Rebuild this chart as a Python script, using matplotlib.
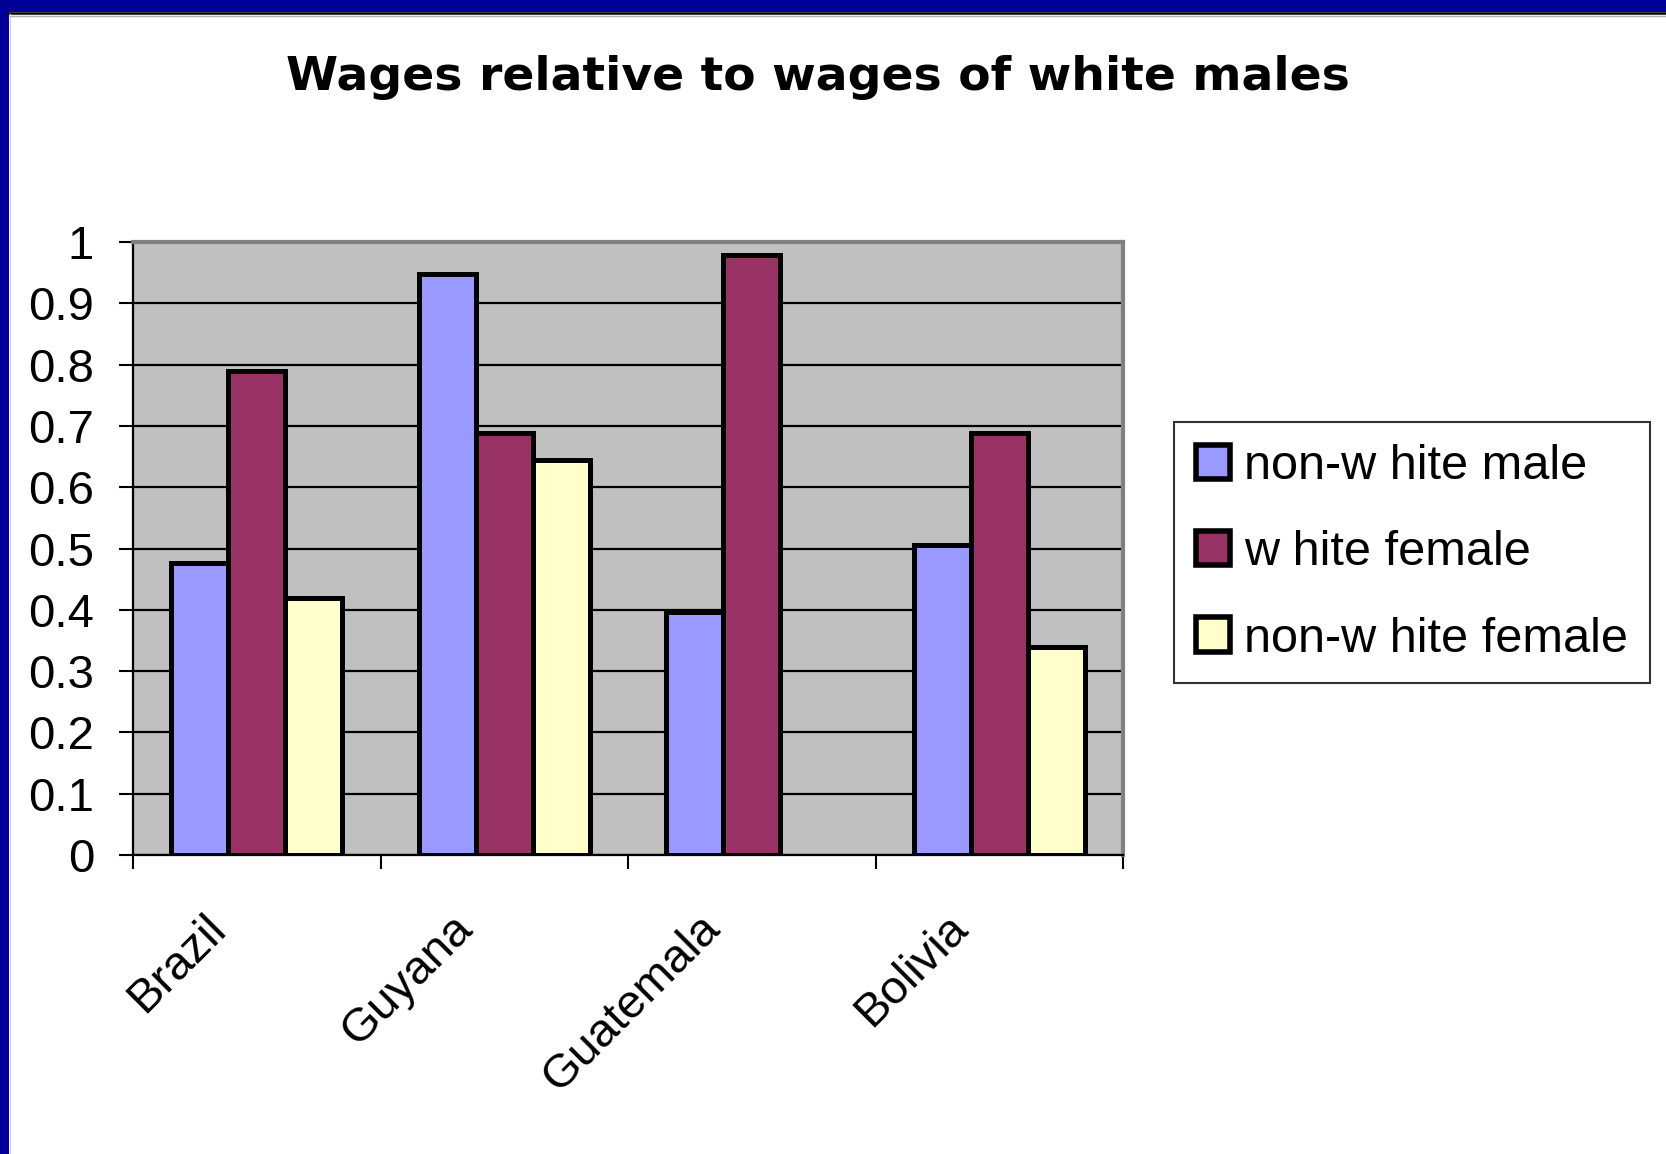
import matplotlib
matplotlib.use("Agg")
import matplotlib.pyplot as plt
from matplotlib.patches import Rectangle, Patch
from matplotlib.transforms import ScaledTranslation
import numpy as np

categories = ["Brazil", "Guyana", "Guatemala", "Bolivia"]
series_names = ["non-w hite male", "w hite female", "non-w hite female"]
non_white_male = [0.477, 0.948, 0.397, 0.506]
white_female = [0.790, 0.688, 0.979, 0.688]
non_white_female = [0.419, 0.645, np.nan, 0.340]
yticks = [0, 0.1, 0.2, 0.3, 0.4, 0.5, 0.6, 0.7, 0.8, 0.9, 1]
ytick_labels = ["0", "0.1", "0.2", "0.3", "0.4", "0.5", "0.6", "0.7", "0.8", "0.9", "1"]
title = "Wages relative to wages of white males"

colors = ["#9999FF", "#993366", "#FFFFCC"]
font = "Liberation Sans"
plt.rcParams["font.family"] = [font, "DejaVu Sans"]

W, H = 1666, 1154
fig = plt.figure(figsize=(W / 100, H / 100), dpi=100)
fig.patch.set_facecolor("white")

# Slide-style border
fig.patches.append(Rectangle((0, 1 - 12 / H), 1, 12 / H, transform=fig.transFigure,
                             facecolor="#000099", edgecolor="none", zorder=0))
fig.patches.append(Rectangle((0, 0), 9 / W, 1, transform=fig.transFigure,
                             facecolor="#000099", edgecolor="none", zorder=0))
fig.lines.append(plt.Line2D([9 / W, 1], [1 - 13 / H, 1 - 13 / H], transform=fig.transFigure,
                            color="black", lw=1.8))
fig.lines.append(plt.Line2D([9 / W, 1], [1 - 15.5 / H, 1 - 15.5 / H], transform=fig.transFigure,
                            color="#B0B0B0", lw=1.0))
fig.lines.append(plt.Line2D([10 / W, 10 / W], [0, 1 - 14 / H], transform=fig.transFigure,
                            color="#D0D0D0", lw=1.0))

ax = fig.add_axes([133 / W, 1 - 855 / H, (1123 - 133) / W, (855 - 242) / H])
ax.set_facecolor("#C0C0C0")

x = np.arange(len(categories))
bw = 0.23
data = [non_white_male, white_female, non_white_female]
for i, (vals, c, name) in enumerate(zip(data, colors, series_names)):
    ax.bar(x + (i - 1) * bw, vals, width=bw, color=c, edgecolor="black",
           linewidth=3.6, label=name, zorder=3)

ax.set_xlim(-0.5, len(categories) - 0.5)
ax.set_ylim(0, 1)
ax.set_yticks(yticks)
ax.set_yticklabels(ytick_labels, fontsize=34)
ax.yaxis.grid(True, color="black", linewidth=1.6, zorder=1)
ax.set_axisbelow(True)
ax.tick_params(axis="y", direction="out", length=10, width=1.5, pad=18, color="black")

ax.set_xticks(x)
ax.set_xticklabels(categories, fontsize=34, rotation=45, ha="right", va="center",
                   rotation_mode="anchor")
ax.tick_params(axis="x", which="major", length=0, pad=48)
ax.set_xticks(np.arange(-0.5, len(categories)), minor=True)
ax.tick_params(axis="x", which="minor", direction="out", length=10, width=1.5, color="black")
offset = ScaledTranslation(-0.38, 0, fig.dpi_scale_trans)
for lab in ax.get_xticklabels():
    lab.set_transform(lab.get_transform() + offset)

for s in ["left", "bottom"]:
    ax.spines[s].set_color("black")
    ax.spines[s].set_linewidth(1.6)
for s in ["top", "right"]:
    ax.spines[s].set_color("#808080")
    ax.spines[s].set_linewidth(3.0)

fig.text(818 / W, 1 - 78 / H, title, ha="center", va="center", fontsize=34,
         fontweight="bold", family=["DejaVu Sans"])

handles = [Patch(facecolor=c, edgecolor="black", linewidth=4.0) for c in colors]
leg = fig.legend(handles, series_names, loc="upper left",
                 bbox_to_anchor=(1174 / W, 1 - 422 / H), bbox_transform=fig.transFigure,
                 fontsize=35, frameon=True, fancybox=False, edgecolor="black",
                 handlelength=0.7, handleheight=0.7, handletextpad=0.3,
                 labelspacing=0.85, borderpad=0.45, borderaxespad=0)
leg.get_frame().set_linewidth(1.5)

fig.savefig("out.png", dpi=100)
